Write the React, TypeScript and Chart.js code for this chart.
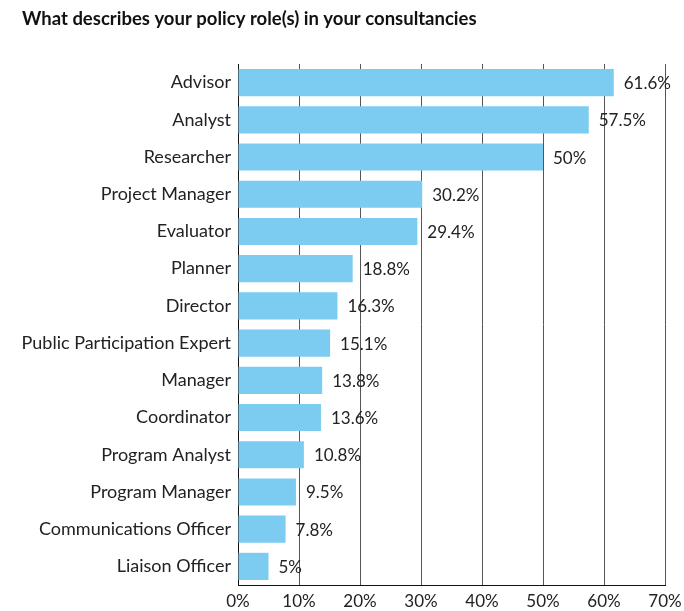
import React, { useEffect, useRef } from "react";
import { Chart, registerables } from "chart.js";

Chart.register(...registerables);

const titleText = "What describes your policy role(s) in your consultancies";
const categories = [
  "Advisor",
  "Analyst",
  "Researcher",
  "Project Manager",
  "Evaluator",
  "Planner",
  "Director",
  "Public Participation Expert",
  "Manager",
  "Coordinator",
  "Program Analyst",
  "Program Manager",
  "Communications Officer",
  "Liaison Officer",
];
const values = [61.6, 57.5, 50, 30.2, 29.4, 18.8, 16.3, 15.1, 13.8, 13.6, 10.8, 9.5, 7.8, 5];
const xTicks = [0, 10, 20, 30, 40, 50, 60, 70];

const FONT = "Lato, 'Open Sans', sans-serif";

const valueLabels = {
  id: "valueLabels",
  afterDatasetsDraw(chart: any) {
    const ctx = chart.ctx;
    const meta = chart.getDatasetMeta(0);
    ctx.save();
    ctx.font = `17px ${FONT}`;
    ctx.fillStyle = "#222";
    ctx.textAlign = "left";
    ctx.textBaseline = "middle";
    meta.data.forEach((bar: any, i: number) => {
      const v = values[i];
      ctx.fillText(`${v}%`, bar.x + 10, bar.y + 1);
    });
    ctx.restore();
  },
};

const titleDraw = {
  id: "titleDraw",
  afterDraw(chart: any) {
    const ctx = chart.ctx;
    ctx.save();
    ctx.font = `bold 18.5px ${FONT}`;
    ctx.fillStyle = "#111";
    ctx.textAlign = "left";
    ctx.textBaseline = "middle";
    ctx.fillText(titleText, 22, 19);
    ctx.restore();
  },
};

export default function App() {
  const ref = useRef<HTMLCanvasElement | null>(null);
  useEffect(() => {
    if (!ref.current) return;
    const chart = new Chart(ref.current, {
      type: "bar",
      data: {
        labels: categories,
        datasets: [
          {
            data: values,
            backgroundColor: "#7BCCF0",
            borderWidth: 0,
            barPercentage: 0.73,
            categoryPercentage: 1,
          },
        ],
      },
      options: {
        indexAxis: "y",
        animation: false,
        responsive: true,
        maintainAspectRatio: false,
        layout: { padding: { left: 0, right: 0, top: 64, bottom: 0 } },
        plugins: {
          legend: { display: false },
          tooltip: { enabled: false },
          title: { display: false },
        },
        scales: {
          x: {
            min: 0,
            max: 70,
            afterBuildTicks: (scale: any) => {
              scale.ticks = xTicks.map((v) => ({ value: v }));
            },
            ticks: {
              callback: (v: any) => `${v}%`,
              color: "#222",
              font: { family: FONT, size: 17 },
              padding: 6,
              maxRotation: 0,
            },
            grid: { color: "#555", drawTicks: false, lineWidth: 1 },
            border: { display: true, color: "#111", width: 1 },
            afterFit: (scale: any) => {
              scale.height = 26;
              scale.paddingRight = 19;
              scale.paddingLeft = 0;
            },
          },
          y: {
            ticks: {
              color: "#222",
              font: { family: FONT, size: 18 },
              padding: 7,
            },
            grid: { display: false, drawTicks: false },
            border: { display: true, color: "#111", width: 1 },
            afterFit: (scale: any) => {
              scale.width = 238;
            },
          },
        },
      },
      plugins: [valueLabels, titleDraw],
    });
    return () => chart.destroy();
  }, []);
  return (
    <div style={{ position: "fixed", left: 0, top: 0, width: 684, height: 611, background: "#fff" }}>
      <canvas ref={ref} />
    </div>
  );
}
